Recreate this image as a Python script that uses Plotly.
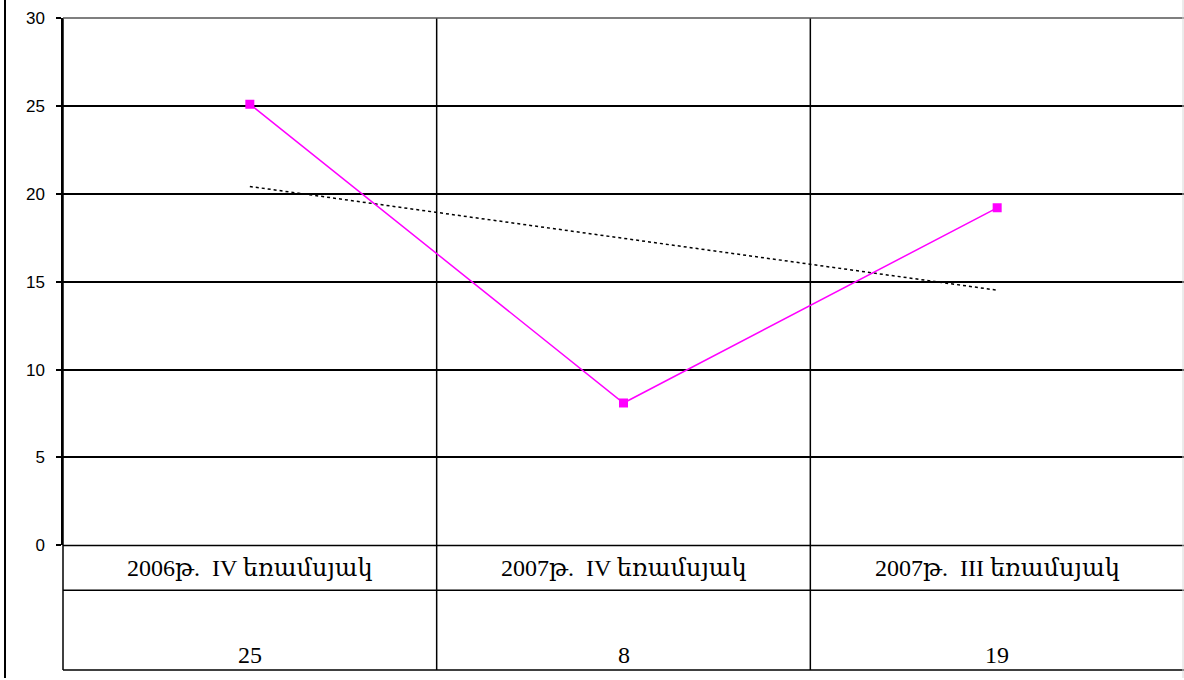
import numpy as np
import plotly.graph_objects as go

categories = ["2006թ.\u00a0 IV եռամսյակ", "2007թ.\u00a0 IV եռամսյակ", "2007թ.\u00a0 III եռամսյակ"]
values = [25.1, 8.1, 19.2]
table_values = ["25", "8", "19"]
y_ticks = [0, 5, 10, 15, 20, 25, 30]

W, H = 1184, 680
ML, MR, MT, MB = 63, 0, 18, 8
plot_h = H - MT - MB
table_top_px = 547
row_split_px = 592

def py(px):
    # pixel y (from top) -> paper y
    return (H - MB - px) / plot_h

def pxx(px):
    return (px - ML) / (W - ML - MR)

x = list(range(len(categories)))
slope, intercept = np.polyfit(x, values, 1)
trend = [slope * i + intercept for i in x]

fig = go.Figure()
fig.add_trace(go.Scatter(
    x=x, y=trend, mode="lines",
    line=dict(color="black", width=1.5, dash="dot"),
    hoverinfo="skip", showlegend=False))
fig.add_trace(go.Scatter(
    x=x, y=values, mode="lines+markers",
    line=dict(color="#FF00FF", width=1.5),
    marker=dict(symbol="square", size=9, color="#FF00FF"),
    showlegend=False))

shapes = []
for b in [0.5, 1.5]:
    shapes.append(dict(type="line", xref="x", yref="paper", x0=b, x1=b,
                       y0=0, y1=1, line=dict(color="black", width=1.5), layer="below"))
shapes.append(dict(type="line", xref="paper", yref="paper", x0=0, x1=0,
                   y0=0, y1=1, line=dict(color="black", width=1.5)))
shapes.append(dict(type="line", xref="paper", yref="paper", x0=0, x1=1,
                   y0=1, y1=1, line=dict(color="#555555", width=1.5)))
shapes.append(dict(type="line", xref="paper", yref="paper", x0=0, x1=1,
                   y0=py(table_top_px), y1=py(table_top_px), line=dict(color="black", width=1.5)))
for ypx in [row_split_px, H - MB]:
    shapes.append(dict(type="line", xref="paper", yref="paper", x0=0, x1=1,
                       y0=py(ypx), y1=py(ypx), line=dict(color="black", width=1.5)))
shapes.append(dict(type="line", xref="paper", yref="paper", x0=pxx(5), x1=pxx(5),
                   y0=py(H), y1=py(0), line=dict(color="black", width=2)))
shapes.append(dict(type="line", xref="paper", yref="paper", x0=pxx(1183), x1=pxx(1183),
                   y0=py(H), y1=py(0), line=dict(color="#d8d8d8", width=1)))

annotations = []
for i, (c, v) in enumerate(zip(categories, table_values)):
    annotations.append(dict(x=i, xref="x", y=py(570), yref="paper", text=c,
                            showarrow=False, xanchor="center", yanchor="middle",
                            font=dict(family="Liberation Serif, DejaVu Serif, serif",
                                      size=24, color="black")))
    annotations.append(dict(x=i, xref="x", y=py(657), yref="paper", text=v,
                            showarrow=False, xanchor="center", yanchor="middle",
                            font=dict(family="Liberation Serif, DejaVu Serif, serif",
                                      size=24, color="black")))

fig.update_layout(
    width=W, height=H,
    margin=dict(l=ML, r=MR, t=MT, b=MB, pad=0),
    paper_bgcolor="white", plot_bgcolor="white",
    shapes=shapes, annotations=annotations,
    xaxis=dict(range=[-0.5, 2.5], showticklabels=False, showgrid=False,
               zeroline=False, showline=False, ticks="", fixedrange=True),
    yaxis=dict(domain=[py(table_top_px), 1], range=[0, 30], tickvals=y_ticks,
               showgrid=True, gridcolor="black", gridwidth=1.5,
               zeroline=False, showline=True, linecolor="black", linewidth=1.5,
               ticks="outside", ticklen=5, tickcolor="black", tickwidth=1.5,
               tickfont=dict(family="Liberation Sans, Arial, sans-serif", size=17, color="black"),
               ticklabelstandoff=8, fixedrange=True),
)

fig.write_html("out.html", config={"displayModeBar": False},
               post_script="document.body.style.margin='0';document.body.style.padding='0';")
